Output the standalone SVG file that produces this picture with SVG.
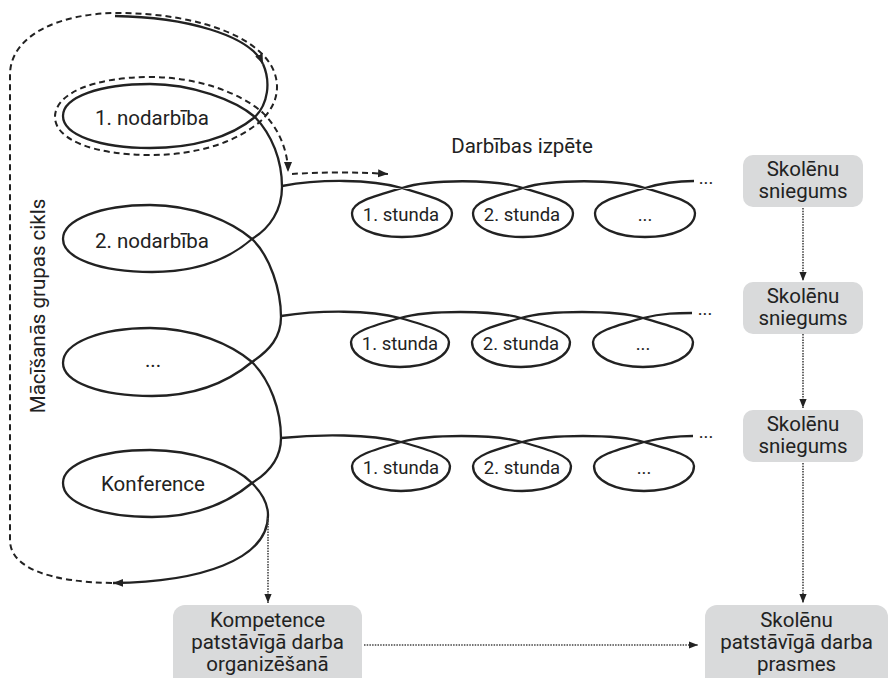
<svg xmlns="http://www.w3.org/2000/svg" width="889" height="678" viewBox="0 0 889 678">
<style>
text{font-family:Roboto,"Liberation Sans",sans-serif;fill:#222;text-anchor:middle}
.t{font-size:20.5px}
.s{font-size:18.5px}
.b{font-size:20.5px}
.solid{fill:none;stroke:#222;stroke-width:2.3}
.dash{fill:none;stroke:#222;stroke-width:2;stroke-dasharray:6 4}
.dot{fill:none;stroke:#444;stroke-width:1.6;stroke-dasharray:1.5 1.2}
.box{fill:#d9dadb}
</style>
<defs>
<marker id="ah" viewBox="0 0 10 10" refX="10" refY="5" markerWidth="10" markerHeight="10" markerUnits="userSpaceOnUse" orient="auto"><path d="M0,1 L10,5 L0,9 z" fill="#222"/></marker>
<marker id="as" viewBox="0 0 10 10" refX="10" refY="5" markerWidth="9" markerHeight="9" markerUnits="userSpaceOnUse" orient="auto"><path d="M0,1 L10,5 L0,9 z" fill="#222"/></marker>
</defs>

<g id="connectors">
<path class="dash" d="M112,583 C50,582 10,568 10,540 L10,75 C10,35 60,13 118,13 C200,13 277,40 277,87 C277,100 271,110 263,119 C238,142 198,155 150,155 C95,155 55,140 55,117 C55,93 95,77 150,77 C198,77 240,93 262,112 C278,127 288,150 288,172" marker-end="url(#ah)"/>
<path class="dash" d="M292,174 C320,172 360,172 388,174" marker-end="url(#ah)"/>
<path class="solid" d="M115,16 C185,17 250,35 263,64" marker-end="url(#ah)"/>
<path class="solid" d="M263,64 C271,82 268,104 255,117 C230,138 192,148 150,148 C100,148 63,135 63,116 C63,97 100,84 150,84 C192,84 235,100 255,117 C272,135 282,160 282,187 C282,210 270,228 252,239 C228,260 195,272 152,272 C100,272 63,258 63,239 C63,220 100,205 150,205 C195,205 232,222 252,239 C270,256 281,290 281,317 C281,337 270,350 252,362 C228,382 195,396 152,396 C100,396 63,382 63,363 C63,343 100,328 150,328 C195,328 232,345 252,362 C270,380 281,410 281,438 C281,458 270,472 252,483 C228,503 195,517 152,517 C100,517 63,503 63,483 C63,464 100,450 150,450 C195,450 235,466 252,483 C264,495 268,505 268,515 C268,560 200,582 113,583" marker-end="url(#ah)"/>
<path class="solid" d="M282,186 C320,179 370,179 402,188 C430,196 452,202 452,213 C452,228 430,237 402,237 C374,237 352,228 352,213 C352,202 374,196 402,188 C430,179 495,179 523,188 C551,196 573,202 573,213 C573,228 551,237 523,237 C495,237 473,228 473,213 C473,202 495,196 523,188 C551,179 617,179 645,188 C673,196 695,202 695,213 C695,228 673,237 645,237 C617,237 595,228 595,213 C595,202 617,196 645,188 C665,182 680,181 694,181"/>
<path class="solid" d="M281,316 C320,310 370,310 400,318 C428,326 449,332 449,342 C449,357 427,367 400,367 C373,367 351,357 351,342 C351,332 372,326 400,318 C428,310 493,310 521,318 C549,326 570,332 570,342 C570,357 548,367 521,367 C494,367 472,357 472,342 C472,332 493,326 521,318 C549,310 615,310 643,318 C671,326 693,332 693,342 C693,357 671,367 643,367 C615,367 593,357 593,342 C593,332 615,326 643,318 C663,313 678,313 692,313"/>
<path class="solid" d="M281,438 C320,434 370,434 401,442 C429,450 450,456 450,466 C450,481 428,491 401,491 C374,491 352,481 352,466 C352,456 373,450 401,442 C429,434 494,434 522,442 C550,450 571,456 571,466 C571,481 549,491 522,491 C495,491 473,481 473,466 C473,456 494,450 522,442 C550,434 616,434 644,442 C672,450 694,456 694,466 C694,481 672,491 644,491 C616,491 594,481 594,466 C594,456 616,450 644,442 C664,437 679,436 693,436"/>
<path class="dot" d="M268,518 L268,603" marker-end="url(#as)"/>
<path class="dot" d="M364,645 L698,645" marker-end="url(#as)"/>
<path class="dot" d="M803,208 L803,281" marker-end="url(#as)"/>
<path class="dot" d="M803,334 L803,408" marker-end="url(#as)"/>
<path class="dot" d="M803,463 L803,603" marker-end="url(#as)"/>
</g>

<g id="label-cycle"><text class="t" transform="translate(45,306) rotate(-90)">Mācīšanās grupas cikls</text></g>
<g id="n1"><text class="t" x="152" y="125">1. nodarbība</text></g>
<g id="n2"><text class="t" x="152" y="248">2. nodarbība</text></g>
<g id="n3"><text class="t" x="153" y="367">...</text></g>
<g id="n4"><text class="t" x="153" y="491">Konference</text></g>
<g id="label-izpete"><text class="t" x="522" y="153">Darbības izpēte</text></g>

<g id="r1">
<text class="s" x="401" y="221">1. stunda</text>
<text class="s" x="522" y="221">2. stunda</text>
<text class="s" x="645" y="221">...</text>
<text class="s" x="706" y="184">...</text>
</g>
<g id="r2">
<text class="s" x="400" y="350">1. stunda</text>
<text class="s" x="521" y="350">2. stunda</text>
<text class="s" x="643" y="350">...</text>
<text class="s" x="705" y="315">...</text>
</g>
<g id="r3">
<text class="s" x="401" y="474">1. stunda</text>
<text class="s" x="522" y="474">2. stunda</text>
<text class="s" x="644" y="474">...</text>
<text class="s" x="706" y="438">...</text>
</g>

<g id="sn1"><rect class="box" x="743" y="155" width="120" height="52" rx="10"/><text class="b" x="803" y="176">Skolēnu</text><text class="b" x="803" y="198">sniegums</text></g>
<g id="sn2"><rect class="box" x="743" y="282" width="120" height="52" rx="10"/><text class="b" x="803" y="303">Skolēnu</text><text class="b" x="803" y="325">sniegums</text></g>
<g id="sn3"><rect class="box" x="743" y="410" width="120" height="52" rx="10"/><text class="b" x="803" y="431">Skolēnu</text><text class="b" x="803" y="453">sniegums</text></g>
<g id="komp"><rect class="box" x="173" y="605" width="189" height="85" rx="12"/><text class="b" x="267.5" y="627">Kompetence</text><text class="b" x="267.5" y="649">patstāvīgā darba</text><text class="b" x="267.5" y="671">organizēšanā</text></g>
<g id="prasmes"><rect class="box" x="705" y="605" width="183" height="85" rx="12"/><text class="b" x="796.5" y="627">Skolēnu</text><text class="b" x="796.5" y="649">patstāvīgā darba</text><text class="b" x="796.5" y="671">prasmes</text></g>
</svg>
